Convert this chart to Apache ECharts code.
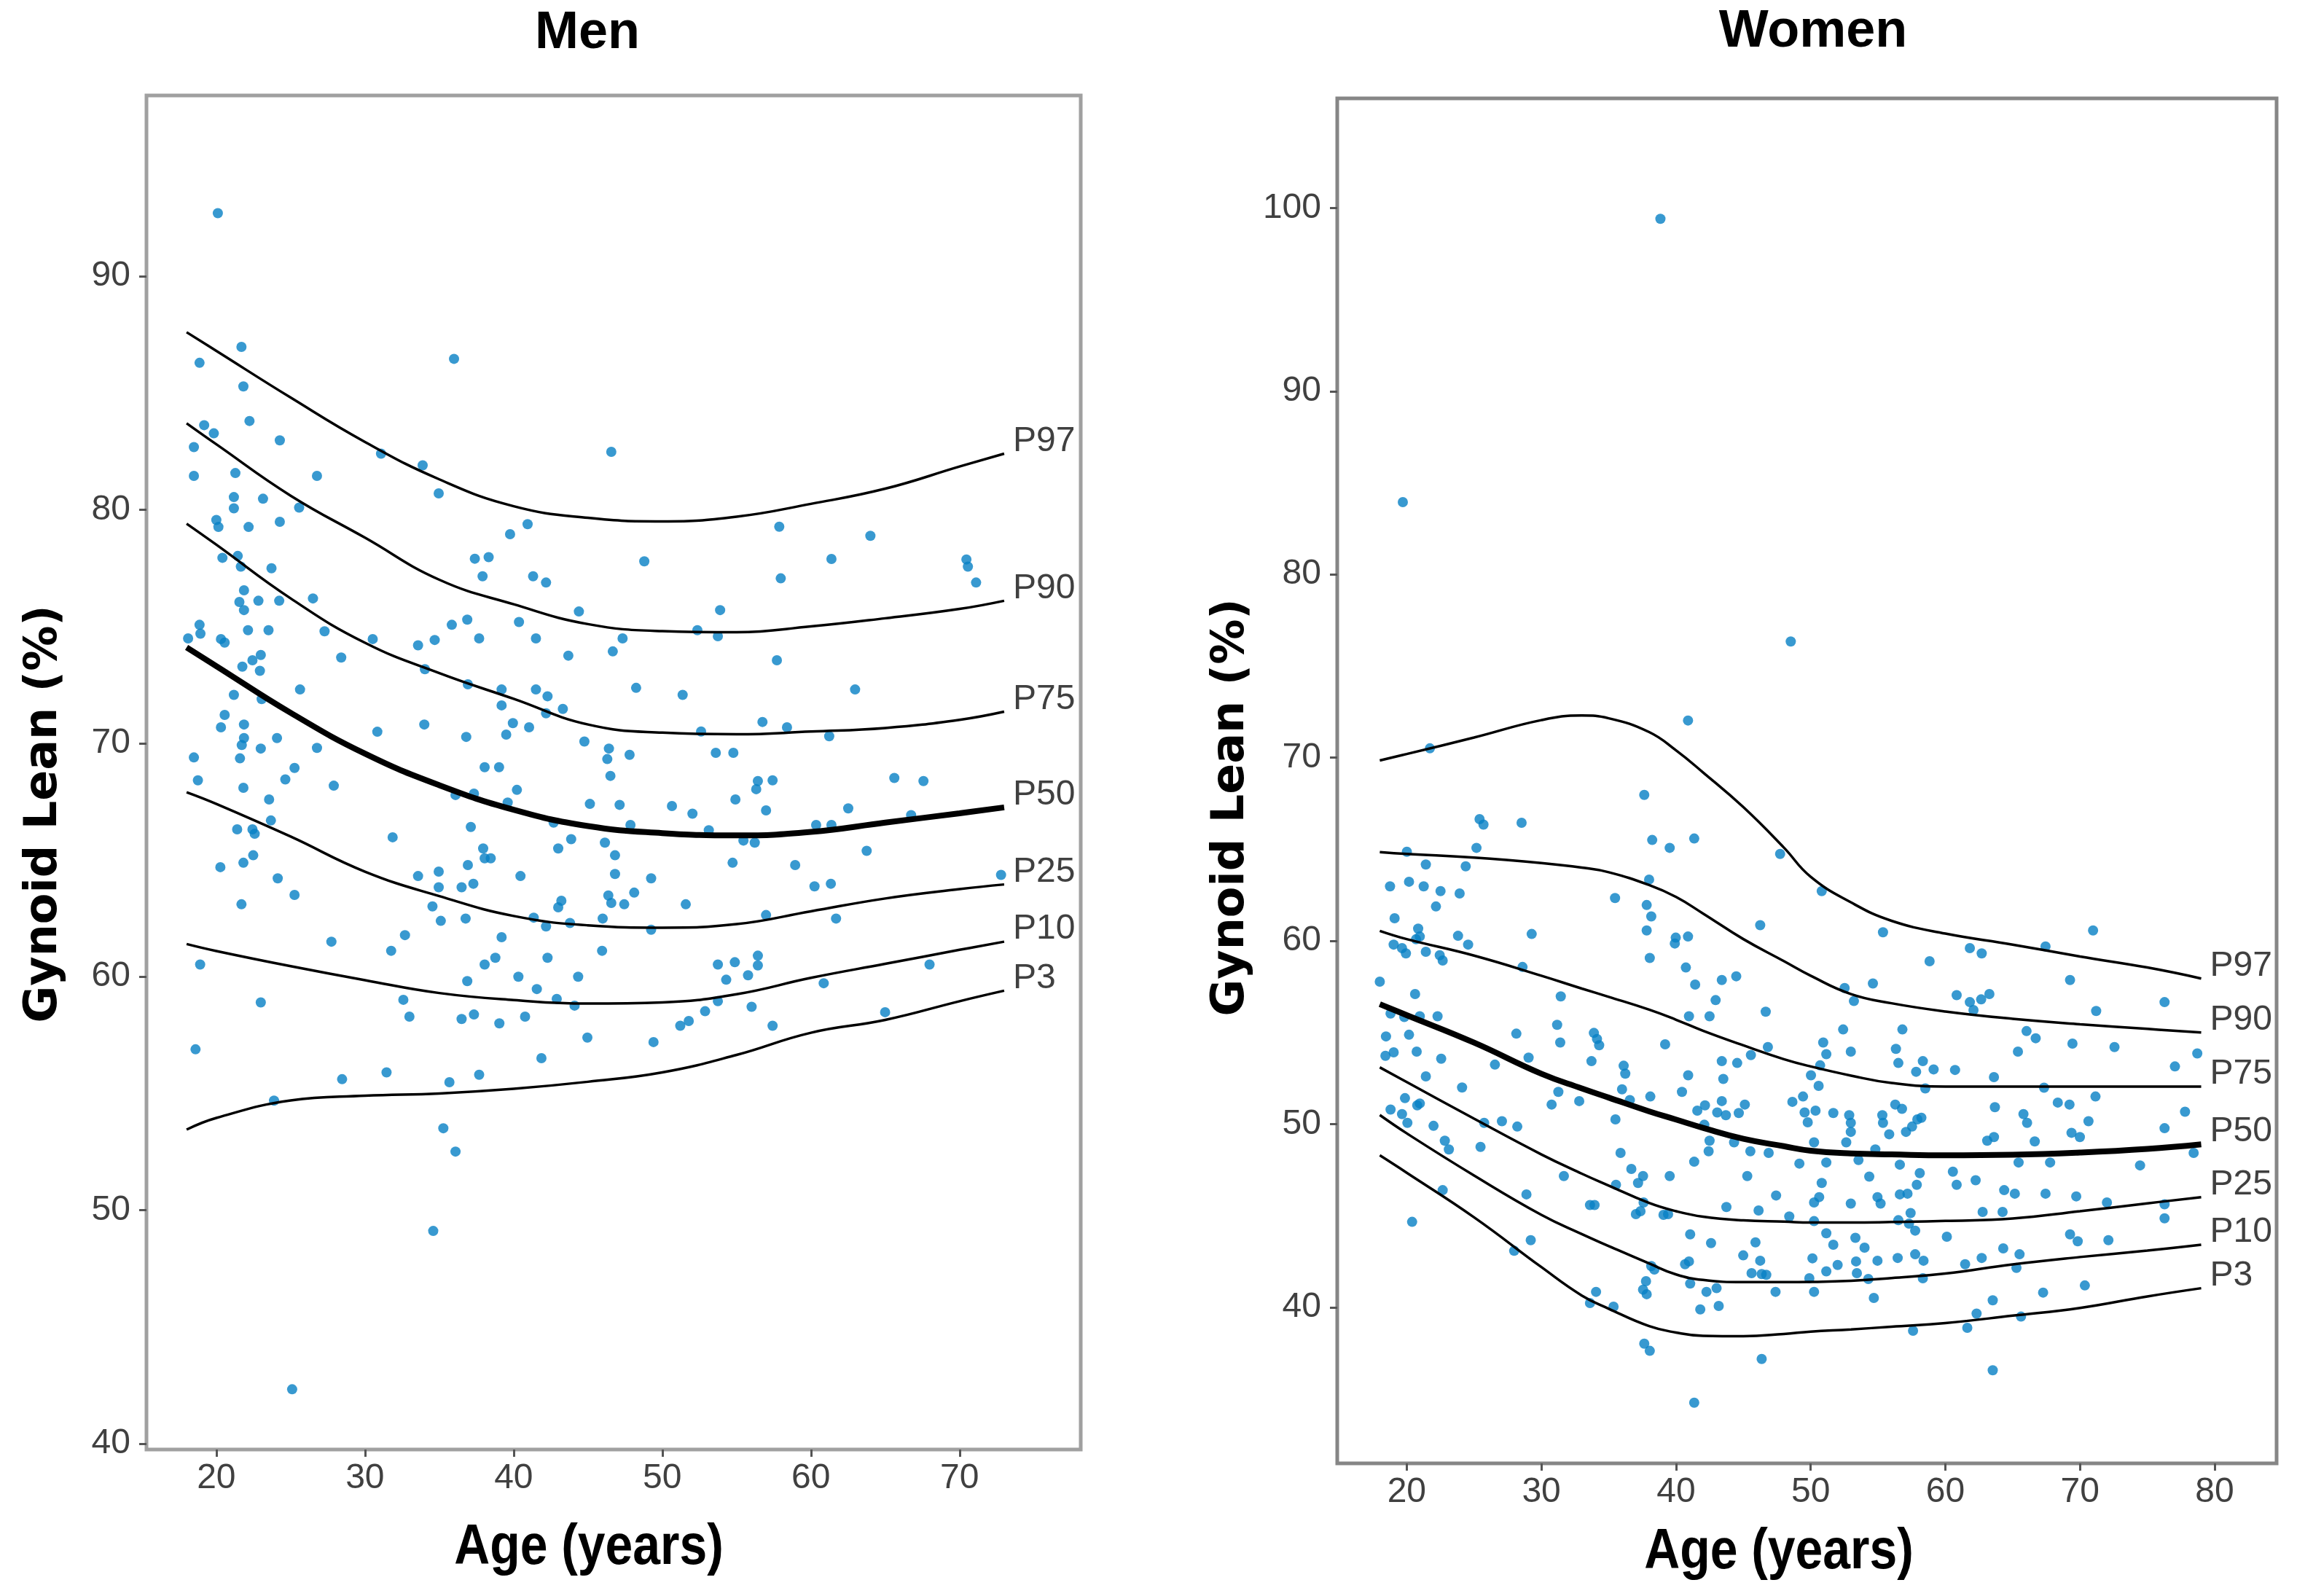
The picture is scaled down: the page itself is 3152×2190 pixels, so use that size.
<!DOCTYPE html>
<html>
<head>
<meta charset="utf-8">
<script src="https://cdn.jsdelivr.net/npm/echarts@6/dist/echarts.min.js"></script>
<style>
html,body{margin:0;padding:0;background:#fff;}
#chart{width:3152px;height:2190px;}
</style>
</head>
<body>
<div id="chart"></div>
<script>
// ---------- DATA ----------
const panelTitles = ['Men', 'Women'];
const yAxisTitle = 'Gynoid Lean (%)';
const xAxisTitle = 'Age (years)';
const percentileNames = ['P97', 'P90', 'P75', 'P50', 'P25', 'P10', 'P3'];

const menXTicks = [20, 30, 40, 50, 60, 70];
const menYTicks = [40, 50, 60, 70, 80, 90];
const womenXTicks = [20, 30, 40, 50, 60, 70, 80];
const womenYTicks = [40, 50, 60, 70, 80, 90, 100];

// Men percentile curves
const menCurveAges = [18, 20, 25, 30, 35, 40, 45, 50, 55, 60, 65, 70, 73];
const menP97 = [87.6, 86.8, 84.8, 82.9, 81.3, 80.15, 79.65, 79.5, 79.7, 80.25, 80.9, 81.85, 82.4];
const menP90 = [83.7, 82.8, 80.6, 78.8, 77.0, 75.95, 75.1, 74.8, 74.75, 75.0, 75.35, 75.75, 76.1];
const menP75 = [79.4, 78.5, 76.2, 74.3, 73.0, 71.9, 70.8, 70.45, 70.38, 70.5, 70.65, 71.0, 71.35];
const menP50 = [74.1, 73.3, 71.3, 69.55, 68.2, 67.15, 66.45, 66.15, 66.05, 66.2, 66.6, 67.0, 67.25];
const menP25 = [67.9, 67.4, 66.0, 64.5, 63.45, 62.6, 62.2, 62.1, 62.25, 62.8, 63.35, 63.75, 63.95];
const menP10 = [61.4, 61.1, 60.45, 59.85, 59.3, 59.0, 58.85, 58.9, 59.25, 59.95, 60.55, 61.15, 61.5];
const menP3  = [53.45, 53.95, 54.7, 54.9, 55.0, 55.2, 55.5, 55.9, 56.65, 57.6, 58.15, 58.95, 59.4];

// Women percentile curves
const womenCurveAges = [18, 20, 25, 30, 33, 35, 38, 40, 42, 45, 48, 50, 53, 56, 60, 65, 70, 75, 79];
const womenP97 = [69.85, 70.2, 71.1, 72.05, 72.3, 72.15, 71.4, 70.4, 69.2, 67.3, 65.1, 63.5, 62.1, 61.1, 60.4, 59.8, 59.15, 58.55, 57.95];
const womenP90 = [64.85, 64.75, 64.55, 64.25, 64.0, 63.75, 63.05, 62.4, 61.5, 60.1, 58.9, 58.1, 57.1, 56.6, 56.15, 55.75, 55.45, 55.2, 55.0];
const womenP75 = [60.55, 60.1, 59.2, 58.1, 57.4, 56.95, 56.25, 55.7, 55.1, 54.3, 53.55, 53.15, 52.65, 52.25, 52.05, 52.05, 52.05, 52.05, 52.05];
const womenP50 = [56.55, 55.95, 54.45, 52.75, 51.95, 51.45, 50.7, 50.25, 49.8, 49.2, 48.8, 48.55, 48.4, 48.35, 48.3, 48.33, 48.45, 48.65, 48.9];
const womenP25 = [53.1, 52.3, 50.3, 48.35, 47.3, 46.65, 45.7, 45.25, 44.95, 44.75, 44.68, 44.63, 44.63, 44.66, 44.72, 44.85, 45.25, 45.68, 46.02];
const womenP10 = [50.5, 49.5, 47.2, 45.05, 44.0, 43.35, 42.4, 41.8, 41.5, 41.38, 41.38, 41.39, 41.45, 41.6, 41.85, 42.35, 42.75, 43.1, 43.42];
const womenP3  = [48.3, 47.35, 44.92, 42.2, 40.65, 39.93, 38.98, 38.63, 38.45, 38.43, 38.55, 38.68, 38.8, 38.95, 39.15, 39.55, 39.97, 40.6, 41.05];

// Men individual measurements [age, gynoid lean %]
const menPoints = [
[20.1,92.7],
[21.69,86.97],[18.87,86.29],[21.82,85.28],[35.99,86.46],[22.23,83.8],[19.18,83.62],[19.83,83.27],[18.49,82.68],[24.27,82.97],[31.08,82.4],
[33.88,81.9],[46.57,82.48],[18.49,81.45],[21.28,81.57],[26.77,81.45],[34.96,80.7],[21.18,80.54],[23.14,80.47],[21.18,80.06],[25.57,80.09],
[20.0,79.56],[20.14,79.26],[22.17,79.26],[24.27,79.48],[40.94,79.38],[39.76,78.95],[20.41,77.94],[21.44,78.02],[21.65,77.56],[23.71,77.49],
[37.39,77.9],[38.32,77.97],[37.91,77.15],[41.31,77.15],[42.18,76.88],[21.86,76.55],[21.55,76.05],[22.83,76.1],[24.23,76.1],[21.86,75.7],
[26.5,76.2],[44.39,75.64],[18.87,75.07],[18.93,74.69],[18.1,74.49],[20.31,74.46],[20.56,74.31],[22.13,74.84],[23.51,74.84],[27.28,74.79],
[35.84,75.07],[36.88,75.29],[40.36,75.19],[37.68,74.49],[41.5,74.49],[33.57,74.19],[34.69,74.42],[46.67,73.93],[43.68,73.75],[30.52,74.46],
[22.43,73.55],[22.99,73.78],[21.75,73.28],[22.93,73.1],[28.4,73.67],[34.03,73.17],[21.18,72.07],[23.05,71.89],[25.63,72.3],[36.92,72.52],
[39.19,72.3],[41.5,72.3],[42.28,72.01],[43.31,71.47],[39.19,71.62],[42.18,71.28],[47.33,74.49],[20.56,71.21],[20.31,70.68],[21.86,70.8],
[33.99,70.8],[30.83,70.49],[39.95,70.86],[41.04,70.68],[39.5,70.37],[36.81,70.27],[44.76,70.07],[46.41,69.77],[46.3,69.32],[21.86,70.22],
[21.71,69.92],[22.99,69.77],[24.08,70.22],[26.77,69.8],[18.49,69.39],[21.59,69.35],[25.26,68.94],[38.05,68.97],[39.02,68.97],
[57.87,79.27],[64.0,78.88],[48.79,77.79],[61.38,77.89],[70.46,77.87],[70.56,77.56],[71.11,76.88],[57.97,77.06],[53.89,75.7],[52.36,74.84],
[53.74,74.58],[57.71,73.55],[48.24,72.37],[51.37,72.07],[62.97,72.3],[56.74,70.91],[58.39,70.68],[52.61,70.5],[61.23,70.3],[47.8,69.5],
[53.6,69.59],[54.78,69.59],
[24.64,68.45],[18.76,68.41],[21.82,68.09],[23.55,67.59],[27.9,68.18],[46.51,68.6],[40.22,68.0],[45.13,67.4],[47.13,67.36],[39.6,67.46],
[37.33,67.84],[36.09,67.78],[42.69,66.6],[37.12,66.41],[31.86,65.97],[21.4,66.31],[22.43,66.31],[22.58,66.12],[23.67,66.69],[43.87,65.89],
[46.14,65.74],[46.82,65.2],[43.0,65.49],[37.95,65.49],[38.05,65.07],[38.46,65.07],[36.92,64.78],[20.27,64.69],[21.82,64.88],[22.48,65.2],
[34.96,64.5],[33.57,64.31],[40.46,64.31],[46.82,64.4],[24.13,64.21],[34.96,63.83],[36.5,63.83],[37.29,63.98],[25.26,63.5],[46.37,63.48],
[43.21,63.25],[43.0,62.97],[21.69,63.1],[34.54,63.01],[35.1,62.39],[36.77,62.49],[41.35,62.53],[42.18,62.15],[43.79,62.3],[45.99,62.49],
[46.57,63.16],[47.44,63.1],[32.69,61.78],[27.74,61.5],[31.76,61.11],[39.19,61.69],[45.95,61.11],[42.28,60.81],[38.77,60.81],[38.05,60.52],
[18.91,60.52],[36.88,59.81],[40.32,60.0],[41.56,59.47],[44.34,60.0],[42.9,59.05],[44.1,58.76],[32.58,59.01],[32.99,58.29],[22.99,58.9],
[36.5,58.19],[37.33,58.38],[39.04,58.0],[40.77,58.29],[44.96,57.39],[41.87,56.51],[18.6,56.89],[28.46,55.61],[31.45,55.9],[35.68,55.48],
[37.68,55.8],[23.88,54.69],[35.27,53.51],[36.09,52.51],[34.59,49.11],[25.1,42.33],
[56.43,68.38],[56.32,68.03],[57.42,68.41],[65.61,68.51],[67.57,68.38],[50.65,67.31],[52.03,66.98],[54.92,67.59],[56.98,67.12],[62.51,67.21],
[47.86,66.5],[53.13,66.27],[55.46,65.83],[56.22,65.74],[60.35,66.5],[61.38,66.5],[66.74,66.92],[63.75,65.39],[54.73,64.88],[58.94,64.78],
[49.25,64.21],[60.24,63.87],[61.34,63.98],[48.11,63.6],[51.58,63.1],[72.79,64.36],[56.98,62.64],[61.69,62.49],[49.25,62.01],[53.74,60.52],
[54.88,60.62],[56.43,60.9],[56.43,60.48],[55.77,60.06],[54.3,59.87],[53.74,58.95],[60.86,59.72],[67.98,60.52],[52.88,58.52],[56.01,58.71],
[51.21,57.9],[51.78,58.1],[57.42,57.9],[64.99,58.48],[49.41,57.2]
];

// Women individual measurements [age, gynoid lean %]
const womenPoints = [
[38.84,99.41],[19.71,83.95],[48.52,76.34],[40.89,72.03],[21.72,70.51],[37.64,67.97],[25.41,66.65],[25.7,66.35],[28.53,66.45],[38.23,65.51],
[39.53,65.08],[41.35,65.59],[47.73,64.75],[20.01,64.87],[25.18,65.08],[21.42,64.17],[24.38,64.07],[38.0,63.35],[18.76,62.98],[20.17,63.23],
[21.26,62.98],[22.51,62.72],[23.93,62.59],[35.47,62.34],[37.82,61.96],[22.17,61.88],[50.82,62.72],
[19.1,61.24],[38.16,61.34],[37.82,60.57],[39.98,60.18],[39.91,59.86],[40.89,60.24],[46.25,60.86],[20.85,60.67],[20.97,60.24],[23.81,60.28],
[24.56,59.8],[29.28,60.38],[19.03,59.8],[19.65,59.61],[19.94,59.32],[21.42,59.41],[22.45,59.22],[22.67,58.93],[20.69,60.09],[28.6,58.58],
[38.05,59.07],[40.73,58.55],[41.42,57.62],[43.4,57.87],[44.47,58.07],[42.94,56.77],[46.66,56.14],[18.0,57.78],[20.62,57.1],[31.44,56.97],
[40.96,55.89],[42.49,55.89],[22.29,55.89],[20.97,55.89],[18.8,56.04],[19.82,55.85],[31.17,55.42],[28.14,54.94],[33.9,54.98],[34.13,54.65],
[18.46,54.79],[20.17,54.88],[31.4,54.46],[34.29,54.31],[39.19,54.36],[46.82,54.21],[45.56,53.77],[19.03,53.92],[18.42,53.73],[20.74,53.96],
[22.56,53.57],[26.55,53.25],[29.05,53.63],[33.72,53.44],[36.11,53.19],[43.4,53.44],[44.54,53.34],[36.23,52.76],[40.9,52.67],[43.51,52.47],
[21.42,52.61],[24.11,52.0],[35.99,51.9],[40.44,51.76],[38.09,51.51],[36.57,51.32],[31.26,51.76],[32.81,51.26],[30.76,51.07],[43.4,51.26],
[45.11,51.07],[41.58,50.74],[42.15,51.03],[43.06,50.64],[43.7,50.49],[44.66,50.61],[48.64,51.22],[49.43,51.51],[49.55,50.64],[49.78,50.1],
[18.8,50.8],[19.87,51.42],[20.78,51.03],[20.97,51.13],[19.65,50.55],[20.05,50.07],[25.75,50.07],[27.07,50.16],[28.21,49.87],[21.99,49.91],
[35.5,50.26],[42.1,49.97],[42.49,49.1],[42.42,48.52],[41.35,47.95],[44.31,49.01],[45.52,48.52],[46.88,48.43],[49.16,47.85],[22.83,49.1],
[23.13,48.62],[25.48,48.76],[35.88,48.43],[36.68,47.56],[37.55,47.17],[37.18,46.79],[39.53,47.17],[45.29,47.17],[31.67,47.17],[35.54,46.69],
[28.89,46.17],[22.67,46.4],[47.43,46.11],[33.61,45.59],[33.95,45.59],[43.74,45.48],[46.13,45.29],[37.59,45.73],[37.36,45.25],[37.02,45.09],
[39.07,45.05],[39.41,45.09],[48.41,44.96],[20.4,44.67],[41.05,43.99],[42.6,43.51],[45.9,43.55],[44.99,42.84],[46.25,42.55],[29.21,43.67],
[40.67,42.36],[40.96,42.51],[38.16,42.26],[38.39,42.07],[45.61,41.87],[46.36,41.82],[46.7,41.78],[41.05,41.3],[42.26,40.85],[43.01,41.05],
[43.17,40.08],[47.39,40.85],[41.8,39.89],[37.77,41.43],[37.55,40.97],[37.82,40.72],[34.06,40.85],[33.61,40.24],[35.36,40.04],[27.98,43.09],
[37.64,38.02],[38.05,37.63],[46.36,37.19],[41.35,34.8],
[55.37,60.47],[70.97,60.57],[61.82,59.61],[62.7,59.32],[67.44,59.7],[58.83,58.89],[54.62,57.68],[69.26,57.87],[52.52,57.43],[53.21,56.72],
[60.84,57.04],[61.82,56.66],[62.66,56.81],[63.27,57.1],[62.09,56.23],[71.2,56.18],[76.28,56.66],[52.41,55.17],[56.81,55.17],[66.03,55.08],
[66.71,54.69],[50.93,54.46],[52.98,53.96],[56.33,54.11],[65.39,53.96],[69.44,54.4],[72.56,54.21],[78.71,53.86],[51.16,53.82],[56.51,53.34],
[50.7,53.21],[58.33,53.44],[57.83,52.86],[59.13,52.99],[60.72,52.96],[77.05,53.15],[50.02,52.67],[50.59,52.09],[63.61,52.57],[58.51,51.95],
[67.33,51.99],[71.15,51.51],[56.28,51.07],[56.78,50.84],[63.68,50.93],[68.35,51.18],[69.22,51.07],[77.8,50.68],[50.36,50.74],[51.68,50.61],
[52.86,50.49],[52.98,50.07],[55.32,50.49],[55.37,50.07],[58.22,50.35],[57.92,50.26],[65.8,50.55],[66.07,50.07],[70.63,50.16],[76.28,49.78],
[55.83,49.45],[57.08,49.58],[57.53,49.87],[52.98,49.58],[50.25,49.01],[52.64,49.01],[54.8,48.62],[63.11,49.1],[63.61,49.3],[66.64,49.06],
[69.37,49.53],[69.99,49.3],[53.55,48.04],[51.16,47.91],[56.62,47.79],[65.44,47.91],[67.78,47.91],[74.46,47.75],[78.44,48.43],[50.82,46.79],
[54.35,47.14],[58.1,47.33],[60.56,47.41],[57.88,46.69],[60.84,46.69],[62.25,46.94],[50.63,46.02],[50.25,45.73],[52.98,45.67],[54.96,46.02],
[55.19,45.67],[56.62,46.17],[57.19,46.21],[64.37,46.4],[65.16,46.21],[67.44,46.21],[69.72,46.06],[72.0,45.73],[62.77,45.21],[64.25,45.21],
[76.28,45.63],[76.28,44.86],[57.42,45.15],[56.51,44.76],[50.25,44.71],[57.3,44.57],[57.76,44.19],[51.16,44.05],[60.11,43.86],[69.26,43.99],
[69.83,43.61],[72.11,43.67],[53.32,43.8],[51.68,43.42],[54.0,43.26],[64.3,43.22],[65.51,42.9],[50.13,42.68],[53.37,42.51],[54.96,42.55],
[56.46,42.7],[57.76,42.9],[58.38,42.55],[62.7,42.7],[52.0,42.32],[61.47,42.36],[51.16,41.97],[53.43,41.87],[65.28,42.16],[49.9,41.59],
[54.28,41.55],[58.33,41.59],[50.25,40.85],[54.69,40.52],[63.52,40.39],[67.26,40.81],[70.36,41.2],[62.32,39.66],[65.62,39.5],[57.6,38.73],
[61.63,38.89],[63.52,36.57]
];

// ---------- CHART ----------
const LABEL_FONT = "'Liberation Sans','Roboto',sans-serif";
const TICK_COLOR = '#404040';
const POINT_COLOR = '#0680c4';

const chart = echarts.init(document.getElementById('chart'), null, {renderer: 'canvas'});

function pairs(ages, vals) { return ages.map((a, i) => [a, vals[i]]); }

function axisX(idx, min, max, ticks) {
  return {
    type: 'value', gridIndex: idx, min: min, max: max,
    axisLine: {show: false},
    axisTick: {show: true, length: 10, lineStyle: {color: '#555', width: 3}, customValues: ticks},
    axisLabel: {show: true, customValues: ticks, fontSize: 48, color: TICK_COLOR, fontFamily: LABEL_FONT, margin: 16},
    splitLine: {show: false}
  };
}
function axisY(idx, min, max, ticks) {
  return {
    type: 'value', gridIndex: idx, min: min, max: max,
    axisLine: {show: false},
    axisTick: {show: true, length: 10, lineStyle: {color: '#555', width: 3}, customValues: ticks},
    axisLabel: {show: true, customValues: ticks, fontSize: 48, color: TICK_COLOR, fontFamily: LABEL_FONT, margin: 22},
    splitLine: {show: false}
  };
}

function curveSeries(idx, name, ages, vals, isMedian) {
  return {
    type: 'line', name: name, xAxisIndex: idx, yAxisIndex: idx,
    data: pairs(ages, vals),
    showSymbol: false, symbol: 'none', smooth: 0.45,
    lineStyle: {color: '#000', width: isMedian ? 8 : 3.5},
    z: 5,
    endLabel: {show: true, formatter: name, fontSize: 48, color: TICK_COLOR, fontFamily: LABEL_FONT, offset: [4, -17]},
    emphasis: {disabled: true}, silent: true
  };
}

const menCurves = [menP97, menP90, menP75, menP50, menP25, menP10, menP3];
const womenCurves = [womenP97, womenP90, womenP75, womenP50, womenP25, womenP10, womenP3];

const series = [
  {type: 'scatter', xAxisIndex: 0, yAxisIndex: 0, data: menPoints, symbol: 'circle', symbolSize: 14,
   itemStyle: {color: POINT_COLOR}, z: 2, silent: true},
  {type: 'scatter', xAxisIndex: 1, yAxisIndex: 1, data: womenPoints, symbol: 'circle', symbolSize: 14,
   itemStyle: {color: POINT_COLOR}, z: 2, silent: true}
];
percentileNames.forEach((n, i) => {
  series.push(curveSeries(0, n, menCurveAges, menCurves[i], n === 'P50'));
  series.push(curveSeries(1, n, womenCurveAges, womenCurves[i], n === 'P50'));
});

function txt(x, y, text, font, opts) {
  return Object.assign({
    type: 'text', x: x, y: y, silent: true,
    style: Object.assign({text: text, fill: '#000', align: 'center', verticalAlign: 'middle'}, font)
  }, opts || {});
}

const titleFont = {fontSize: 72, fontWeight: 'bold', fontFamily: "'Liberation Sans',sans-serif"};
const yTitleFont = {fontSize: 62, fontWeight: 'bold', fontFamily: "'DejaVu Sans',sans-serif"};
const xTitleFont = {fontSize: 78, fontWeight: 'bold', fontFamily: "'Liberation Sans',sans-serif"};

chart.setOption({
  animation: false,
  backgroundColor: '#fff',
  grid: [
    {left: 201, top: 131, width: 1282, height: 1858, show: true, borderColor: '#a0a0a0', borderWidth: 5, backgroundColor: 'transparent'},
    {left: 1835, top: 135, width: 1289, height: 1873, show: true, borderColor: '#868686', borderWidth: 5, backgroundColor: 'transparent'}
  ],
  xAxis: [axisX(0, 15.3, 78.15, menXTicks), axisX(1, 14.84, 84.6, womenXTicks)],
  yAxis: [axisY(0, 39.75, 97.74, menYTicks), axisY(1, 31.49, 105.98, womenYTicks)],
  series: series,
  graphic: [
    txt(806, 46, panelTitles[0], titleFont),
    txt(2488, 44, panelTitles[1], titleFont),
    txt(61, 1117, yAxisTitle, yTitleFont, {rotation: Math.PI / 2}),
    txt(1690, 1108, yAxisTitle, yTitleFont, {rotation: Math.PI / 2}),
    txt(808, 2124, xAxisTitle, xTitleFont, {scaleX: 0.87}),
    txt(2441, 2130, xAxisTitle, xTitleFont, {scaleX: 0.87})
  ]
});
</script>
</body>
</html>
